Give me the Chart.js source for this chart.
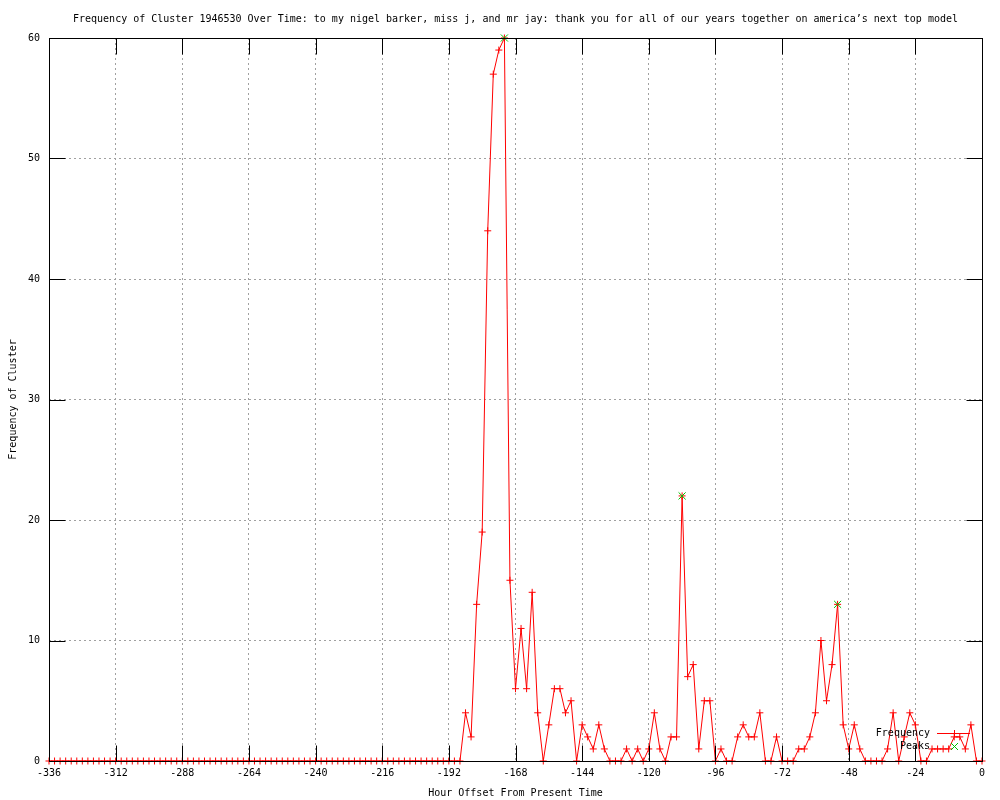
<!DOCTYPE html>
<html>
<head>
<meta charset="utf-8">
<title>Frequency of Cluster 1946530 Over Time</title>
<script src="https://cdn.jsdelivr.net/npm/chart.js@4.4.1/dist/chart.umd.min.js"></script>
<style>
  html, body { margin: 0; padding: 0; background: #fff; }
  #wrap { width: 1000px; height: 800px; }
</style>
</head>
<body>
<div id="wrap"><canvas id="clusterChart" width="1000" height="800"></canvas></div>
<script>
// Chart text
const titleText = 'Frequency of Cluster 1946530 Over Time: to my nigel barker, miss j, and mr jay: thank you for all of our years together on america\u2019s next top model';
const xTitle = 'Hour Offset From Present Time';
const yTitle = 'Frequency of Cluster';

// One sample every 2 hours, -336 .. 0
const hours = [
    -336, -334, -332, -330, -328, -326, -324, -322, -320, -318, -316, -314,
    -312, -310, -308, -306, -304, -302, -300, -298, -296, -294, -292, -290,
    -288, -286, -284, -282, -280, -278, -276, -274, -272, -270, -268, -266,
    -264, -262, -260, -258, -256, -254, -252, -250, -248, -246, -244, -242,
    -240, -238, -236, -234, -232, -230, -228, -226, -224, -222, -220, -218,
    -216, -214, -212, -210, -208, -206, -204, -202, -200, -198, -196, -194,
    -192, -190, -188, -186, -184, -182, -180, -178, -176, -174, -172, -170,
    -168, -166, -164, -162, -160, -158, -156, -154, -152, -150, -148, -146,
    -144, -142, -140, -138, -136, -134, -132, -130, -128, -126, -124, -122,
    -120, -118, -116, -114, -112, -110, -108, -106, -104, -102, -100, -98,
    -96, -94, -92, -90, -88, -86, -84, -82, -80, -78, -76, -74,
    -72, -70, -68, -66, -64, -62, -60, -58, -56, -54, -52, -50,
    -48, -46, -44, -42, -40, -38, -36, -34, -32, -30, -28, -26,
    -24, -22, -20, -18, -16, -14, -12, -10, -8, -6, -4, -2,
    0
];

const frequency = [
    0, 0, 0, 0, 0, 0, 0, 0, 0, 0, 0, 0,
    0, 0, 0, 0, 0, 0, 0, 0, 0, 0, 0, 0,
    0, 0, 0, 0, 0, 0, 0, 0, 0, 0, 0, 0,
    0, 0, 0, 0, 0, 0, 0, 0, 0, 0, 0, 0,
    0, 0, 0, 0, 0, 0, 0, 0, 0, 0, 0, 0,
    0, 0, 0, 0, 0, 0, 0, 0, 0, 0, 0, 0,
    0, 0, 0, 4, 2, 13, 19, 44, 57, 59, 60, 15,
    6, 11, 6, 14, 4, 0, 3, 6, 6, 4, 5, 0,
    3, 2, 1, 3, 1, 0, 0, 0, 1, 0, 1, 0,
    1, 4, 1, 0, 2, 2, 22, 7, 8, 1, 5, 5,
    0, 1, 0, 0, 2, 3, 2, 2, 4, 0, 0, 2,
    0, 0, 0, 1, 1, 2, 4, 10, 5, 8, 13, 3,
    1, 3, 1, 0, 0, 0, 0, 1, 4, 0, 2, 4,
    3, 0, 0, 1, 1, 1, 1, 2, 2, 1, 3, 0,
    0
];

const peakHours = [-172, -108, -52];
const peakValues = [60, 22, 13];

const xTicks = [-336, -312, -288, -264, -240, -216, -192, -168, -144, -120, -96, -72, -48, -24, 0];
const yTicks = [0, 10, 20, 30, 40, 50, 60];

const monoFont = { family: "'DejaVu Sans Mono', monospace", size: 10 };

// gnuplot-style frame: black border with inward ticks on all four sides
const gnuplotFrame = {
    id: 'gnuplotFrame',
    afterDatasetsDraw(chart) {
        const { ctx, chartArea: a, scales: { x, y } } = chart;
        const L = 16;
        const left = Math.round(a.left) + 0.5;
        const right = Math.round(a.right) + 0.5;
        const top = Math.round(a.top) + 0.5;
        const bottom = Math.round(a.bottom) + 0.5;
        ctx.save();
        ctx.strokeStyle = '#000';
        ctx.lineWidth = 1;
        ctx.beginPath();
        xTicks.forEach(v => {
            const px = Math.round(x.getPixelForValue(v)) + 0.5;
            ctx.moveTo(px, bottom); ctx.lineTo(px, bottom - L);
            ctx.moveTo(px, top); ctx.lineTo(px, top + L);
        });
        yTicks.forEach(v => {
            const py = Math.round(y.getPixelForValue(v)) + 0.5;
            ctx.moveTo(left, py); ctx.lineTo(left + L, py);
            ctx.moveTo(right, py); ctx.lineTo(right - L, py);
        });
        ctx.stroke();
        ctx.strokeRect(left, top, right - left, bottom - top);
        ctx.restore();
    }
};

// key in the lower right corner, text left of the sample
const gnuplotKey = {
    id: 'gnuplotKey',
    afterDraw(chart) {
        const { ctx, chartArea: a } = chart;
        const textRight = a.right - 52;
        const sampleL = a.right - 45;
        const sampleR = a.right - 12;
        const mid = Math.round((sampleL + sampleR) / 2) + 0.5;
        const row1 = Math.round(a.bottom - 28) + 0.5;
        const row2 = Math.round(a.bottom - 15) + 0.5;
        ctx.save();
        ctx.font = "10px 'DejaVu Sans Mono', monospace";
        ctx.fillStyle = '#000';
        ctx.textAlign = 'right';
        ctx.textBaseline = 'middle';
        ctx.fillText('Frequency', textRight, row1);
        ctx.fillText('Peaks', textRight, row2);

        ctx.lineWidth = 1;
        ctx.strokeStyle = '#ff0000';
        ctx.beginPath();
        ctx.moveTo(sampleL, row1); ctx.lineTo(sampleR, row1);
        ctx.moveTo(mid, row1 - 3.5); ctx.lineTo(mid, row1 + 3.5);
        ctx.stroke();

        ctx.strokeStyle = '#00c000';
        ctx.beginPath();
        ctx.moveTo(mid - 3.5, row2 - 3.5); ctx.lineTo(mid + 3.5, row2 + 3.5);
        ctx.moveTo(mid - 3.5, row2 + 3.5); ctx.lineTo(mid + 3.5, row2 - 3.5);
        ctx.stroke();
        ctx.restore();
    }
};

new Chart(document.getElementById('clusterChart'), {
    type: 'line',
    data: {
        datasets: [
            {
                label: 'Peaks',
                data: peakHours.map((h, i) => ({ x: h, y: peakValues[i] })),
                showLine: false,
                pointStyle: 'crossRot',
                pointRadius: 5,
                pointBorderWidth: 1,
                pointBorderColor: '#00c000',
                borderColor: '#00c000',
                order: 0,
                clip: 8
            },
            {
                label: 'Frequency',
                data: hours.map((h, i) => ({ x: h, y: frequency[i] })),
                borderColor: '#ff0000',
                borderWidth: 1,
                tension: 0,
                fill: false,
                pointStyle: 'cross',
                pointRadius: 3.5,
                pointBorderWidth: 1,
                pointBorderColor: '#ff0000',
                order: 1,
                clip: 8
            }
        ]
    },
    options: {
        responsive: false,
        animation: false,
        events: [],
        layout: { padding: { top: 0, right: 18, left: 0, bottom: 0 } },
        plugins: {
            legend: { display: false },
            tooltip: { enabled: false },
            title: {
                display: true,
                text: titleText,
                fullSize: false,
                color: '#000',
                font: { ...monoFont, weight: 'normal' },
                padding: { top: 13, bottom: 13 }
            }
        },
        scales: {
            x: {
                type: 'linear',
                min: -336,
                max: 0,
                afterBuildTicks: scale => { scale.ticks = xTicks.map(v => ({ value: v })); },
                afterFit: scale => { scale.height = 39; },
                border: { display: false, dash: [2, 3] },
                grid: { color: '#a0a0a0', lineWidth: 1, drawTicks: false },
                ticks: { color: '#000', font: monoFont, padding: 6, maxRotation: 0, autoSkip: false },
                title: { display: true, text: xTitle, color: '#000', font: monoFont, padding: { top: 0, bottom: 1 } }
            },
            y: {
                type: 'linear',
                min: 0,
                max: 60,
                afterBuildTicks: scale => { scale.ticks = yTicks.map(v => ({ value: v })); },
                afterFit: scale => { scale.width = 49; },
                border: { display: false, dash: [2, 3] },
                grid: { color: '#a0a0a0', lineWidth: 1, drawTicks: false },
                ticks: { color: '#000', font: monoFont, padding: 9 },
                title: { display: true, text: yTitle, color: '#000', font: monoFont, padding: { top: 7, bottom: 0 } }
            }
        }
    },
    plugins: [gnuplotFrame, gnuplotKey]
});
</script>
</body>
</html>
